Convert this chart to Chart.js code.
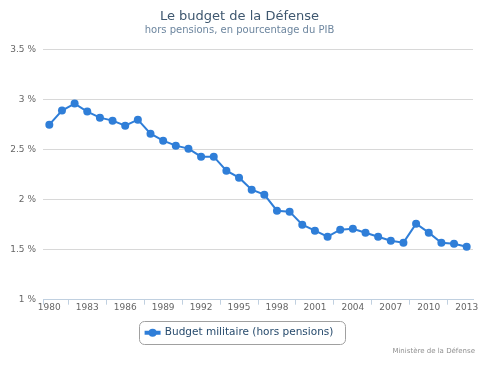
<!DOCTYPE html>
<html>
<head>
<meta charset="utf-8">
<script src="https://cdn.jsdelivr.net/npm/chart.js@4"></script>
<style>
  html, body { margin: 0; padding: 0; background: #fff; }
  #wrap { position: relative; width: 497px; height: 366px; }
  #credits { position: absolute; right: 22px; top: 347px; font: 7px "DejaVu Sans", sans-serif; color: #909090; }
</style>
</head>
<body>
<div id="wrap">
  <canvas id="chart" width="497" height="366"></canvas>
  <div id="credits">Ministère de la Défense</div>
</div>
<script>
// années 1980 - 2013
const years = ['1980','1981','1982','1983','1984','1985','1986','1987','1988','1989',
  '1990','1991','1992','1993','1994','1995','1996','1997','1998','1999',
  '2000','2001','2002','2003','2004','2005','2006','2007','2008','2009',
  '2010','2011','2012','2013'];

// budget militaire hors pensions, en % du PIB
const budget = [2.75, 2.89, 2.96, 2.88, 2.82, 2.79, 2.74, 2.80, 2.66, 2.59,
  2.54, 2.51, 2.43, 2.43, 2.29, 2.22, 2.10, 2.05, 1.89, 1.88,
  1.75, 1.69, 1.63, 1.70, 1.71, 1.67, 1.63, 1.59, 1.57, 1.76,
  1.67, 1.57, 1.56, 1.53];

const yTicks = [1, 1.5, 2, 2.5, 3, 3.5];

const FONT = '"DejaVu Sans", sans-serif';
const BLUE = '#2f7ed8';

// cadre arrondi + point du symbole de légende
const legendFrame = {
  id: 'legendFrame',
  afterDraw(chart) {
    const lg = chart.legend;
    if (!lg || !lg.legendHitBoxes.length) return;
    const hb = lg.legendHitBoxes[0];
    const c = chart.ctx;
    const bw = lg.options.labels.boxWidth;
    const cy = hb.top + lg.options.labels.font.size / 2;
    c.save();
    const x = Math.round(hb.left - 7), y = Math.round(cy - 11.5);
    const w = Math.round(hb.width + 18), h = 23;
    c.strokeStyle = '#a0a0a0';
    c.lineWidth = 1;
    c.beginPath();
    c.roundRect(x + 0.5, y + 0.5, w, h, 5);
    c.stroke();
    c.fillStyle = BLUE;
    c.beginPath();
    c.arc(hb.left + bw / 2, cy, 4, 0, Math.PI * 2);
    c.fill();
    c.restore();
  }
};

new Chart(document.getElementById('chart'), {
  type: 'line',
  data: {
    labels: years,
    datasets: [{
      label: 'Budget militaire (hors pensions)',
      data: budget,
      borderColor: BLUE,
      backgroundColor: BLUE,
      borderWidth: 2,
      pointRadius: 4,
      pointHoverRadius: 4,
      pointBackgroundColor: BLUE,
      pointBorderWidth: 0,
      tension: 0
    }]
  },
  options: {
    responsive: false,
    animation: false,
    layout: { padding: { left: 6, right: 24, top: 0, bottom: 18 } },
    plugins: {
      title: {
        display: true,
        text: 'Le budget de la Défense',
        color: '#3E576F',
        font: { family: FONT, size: 13, weight: 'normal', lineHeight: 1.2 },
        padding: { top: 9, bottom: 0 }
      },
      subtitle: {
        display: true,
        text: 'hors pensions, en pourcentage du PIB',
        color: '#6D869F',
        font: { family: FONT, size: 10, weight: 'normal', lineHeight: 1.2 },
        padding: { top: 0, bottom: 13 }
      },
      legend: {
        display: true,
        position: 'bottom',
        labels: {
          color: '#274b6d',
          font: { family: FONT, size: 10.5 },
          usePointStyle: false,
          boxWidth: 14,
          boxHeight: 2,
          padding: 16
        }
      },
      tooltip: { enabled: false }
    },
    scales: {
      x: {
        type: 'category',
        offset: true,
        grid: {
          offset: true,
          drawOnChartArea: false,
          drawTicks: true,
          tickLength: 5,
          color: ctx => (ctx.index === 0 || ctx.index === years.length || ctx.index % 3 === 2) ? '#C0D0E0' : 'rgba(0,0,0,0)'
        },
        border: { display: true, color: '#C0D0E0', width: 1 },
        ticks: {
          autoSkip: false,
          maxRotation: 0,
          padding: -2,
          color: '#666',
          font: { family: FONT, size: 9 },
          callback: (v, i) => (i % 3 === 0 ? years[i] : '')
        }
      },
      y: {
        min: 1,
        max: 3.5,
        afterFit: s => { s.width = 37; },
        afterBuildTicks: s => { s.ticks = yTicks.map(v => ({ value: v })); },
        grid: { color: '#D8D8D8', drawTicks: false, lineWidth: 1 },
        border: { display: false },
        ticks: {
          padding: 7,
          color: '#666',
          font: { family: FONT, size: 9 },
          callback: v => v + ' %'
        }
      }
    }
  },
  plugins: [legendFrame]
});
</script>
</body>
</html>
